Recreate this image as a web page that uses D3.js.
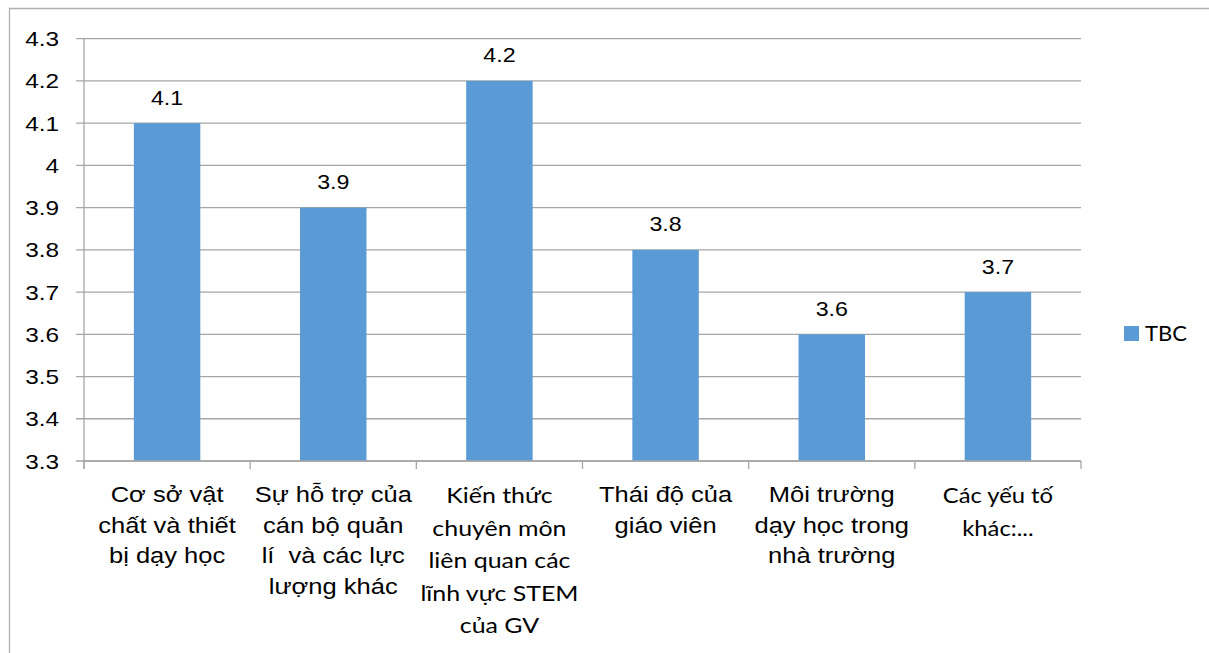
<!DOCTYPE html>
<html>
<head>
<meta charset="utf-8">
<script src="https://cdn.jsdelivr.net/npm/d3@7/dist/d3.min.js"></script>
<style>
  html, body { margin: 0; padding: 0; background: #fff; }
  svg { display: block; }
  text { white-space: pre; }
</style>
</head>
<body>
<svg id="chart" width="1209" height="653"></svg>
<script>
// Average scores (TBC) per factor
const categories = [
  "Cơ sở vật chất và thiết bị dạy học",
  "Sự hỗ trợ của cán bộ quản lí và các lực lượng khác",
  "Kiến thức chuyên môn liên quan các lĩnh vực STEM của GV",
  "Thái độ của giáo viên",
  "Môi trường dạy học trong nhà trường",
  "Các yếu tố khác:..."
];
const categoryLines = [
  ["Cơ sở vật", "chất và thiết", "bị dạy học"],
  ["Sự hỗ trợ của", "cán bộ quản", "lí  và các lực", "lượng khác"],
  ["Kiến thức", "chuyên môn", "liên quan các", "lĩnh vực STEM", "của GV"],
  ["Thái độ của", "giáo viên"],
  ["Môi trường", "dạy học trong", "nhà trường"],
  ["Các yếu tố", "khác:..."]
];
const values = [4.1, 3.9, 4.2, 3.8, 3.6, 3.7];
const tickValues = [3.3, 3.4, 3.5, 3.6, 3.7, 3.8, 3.9, 4.0, 4.1, 4.2, 4.3];
const tickLabels = ["3.3", "3.4", "3.5", "3.6", "3.7", "3.8", "3.9", "4", "4.1", "4.2", "4.3"];
const seriesName = "TBC";

const ARIAL = "'Liberation Sans', Arial, sans-serif";
const HUMANIST = "Lato, 'Open Sans', sans-serif";
// label styles: which category labels use the humanist face
const humanistLabel = [false, false, true, false, false, true];

const svg = d3.select("#chart");
const plot = { left: 84, right: 1081, top: 38.7, bottom: 461 };
const barColor = "#5b9bd5";
const gridColor = "#a6a6a6";
const sx = 1.16; // horizontal text widening

svg.append("rect").attr("width", 1209).attr("height", 653).attr("fill", "#fff");

// outer chart frame (top and left edges)
svg.append("path")
  .attr("d", "M9.5,653 V8.5 H1209")
  .attr("fill", "none")
  .attr("stroke", "#b0b0b0")
  .attr("stroke-width", 1.3);

const x = d3.scaleBand()
  .domain(categories)
  .range([plot.left, plot.right])
  .paddingInner(0.6)
  .paddingOuter(0.3);

const y = d3.scaleLinear()
  .domain([3.3, 4.3])
  .range([plot.bottom, plot.top]);

function stretchedText(g, tx, ty, str, opts) {
  return g.append("text")
    .attr("transform", `translate(${tx},${ty}) scale(${opts.sx || sx},1)`)
    .attr("text-anchor", opts.anchor || "middle")
    .attr("font-family", opts.family || ARIAL)
    .attr("font-size", opts.size)
    .attr("fill", "#000")
    .text(str);
}

// horizontal gridlines with tick marks
svg.append("g").selectAll("line")
  .data(tickValues)
  .join("line")
  .attr("x1", plot.left - 8)
  .attr("x2", plot.right)
  .attr("y1", d => y(d))
  .attr("y2", d => y(d))
  .attr("stroke", gridColor)
  .attr("stroke-width", 1.3);

// y tick labels
const yLab = svg.append("g");
tickValues.forEach((d, i) => {
  stretchedText(yLab, 59, y(d) + 7.5, tickLabels[i], { anchor: "end", size: 21 });
});

// bars
svg.append("g").selectAll("rect")
  .data(values)
  .join("rect")
  .attr("x", (d, i) => x(categories[i]))
  .attr("y", d => y(d))
  .attr("width", x.bandwidth())
  .attr("height", d => y(3.3) - y(d))
  .attr("fill", barColor);

// value labels
const vLab = svg.append("g");
values.forEach((d, i) => {
  stretchedText(vLab, x(categories[i]) + x.bandwidth() / 2, y(d) - 18.5, String(d), { size: 20 });
});

// y axis line and category separators
const step = x.step();
const bounds = d3.range(categories.length + 1).map(i => plot.left + i * step);
svg.append("line")
  .attr("x1", plot.left).attr("x2", plot.left)
  .attr("y1", plot.top).attr("y2", plot.bottom + 8)
  .attr("stroke", gridColor).attr("stroke-width", 1.3);
svg.append("line")
  .attr("x1", plot.left).attr("x2", plot.right)
  .attr("y1", plot.bottom).attr("y2", plot.bottom)
  .attr("stroke", gridColor).attr("stroke-width", 1.3);
svg.append("g").selectAll("line")
  .data(bounds)
  .join("line")
  .attr("x1", d => d).attr("x2", d => d)
  .attr("y1", plot.bottom).attr("y2", plot.bottom + 8)
  .attr("stroke", gridColor).attr("stroke-width", 1.3);

// category labels
const cLab = svg.append("g");
categoryLines.forEach((lines, i) => {
  const cx = x(categories[i]) + x.bandwidth() / 2;
  const hum = humanistLabel[i];
  const size = hum ? (i === 5 ? 20.5 : 21.5) : 22;
  const lh = hum ? 32.5 : 30.8;
  const base = hum ? 503 : 501.7;
  lines.forEach((ln, j) => {
    stretchedText(cLab, cx, base + j * lh, ln, { size, family: hum ? HUMANIST : ARIAL });
  });
});

// legend
const leg = svg.append("g");
leg.append("rect")
  .attr("x", 1124).attr("y", 326)
  .attr("width", 15).attr("height", 15)
  .attr("fill", barColor);
stretchedText(leg, 1145, 341, seriesName, { anchor: "start", size: 22, family: HUMANIST, sx: 1.0 });
</script>
</body>
</html>
